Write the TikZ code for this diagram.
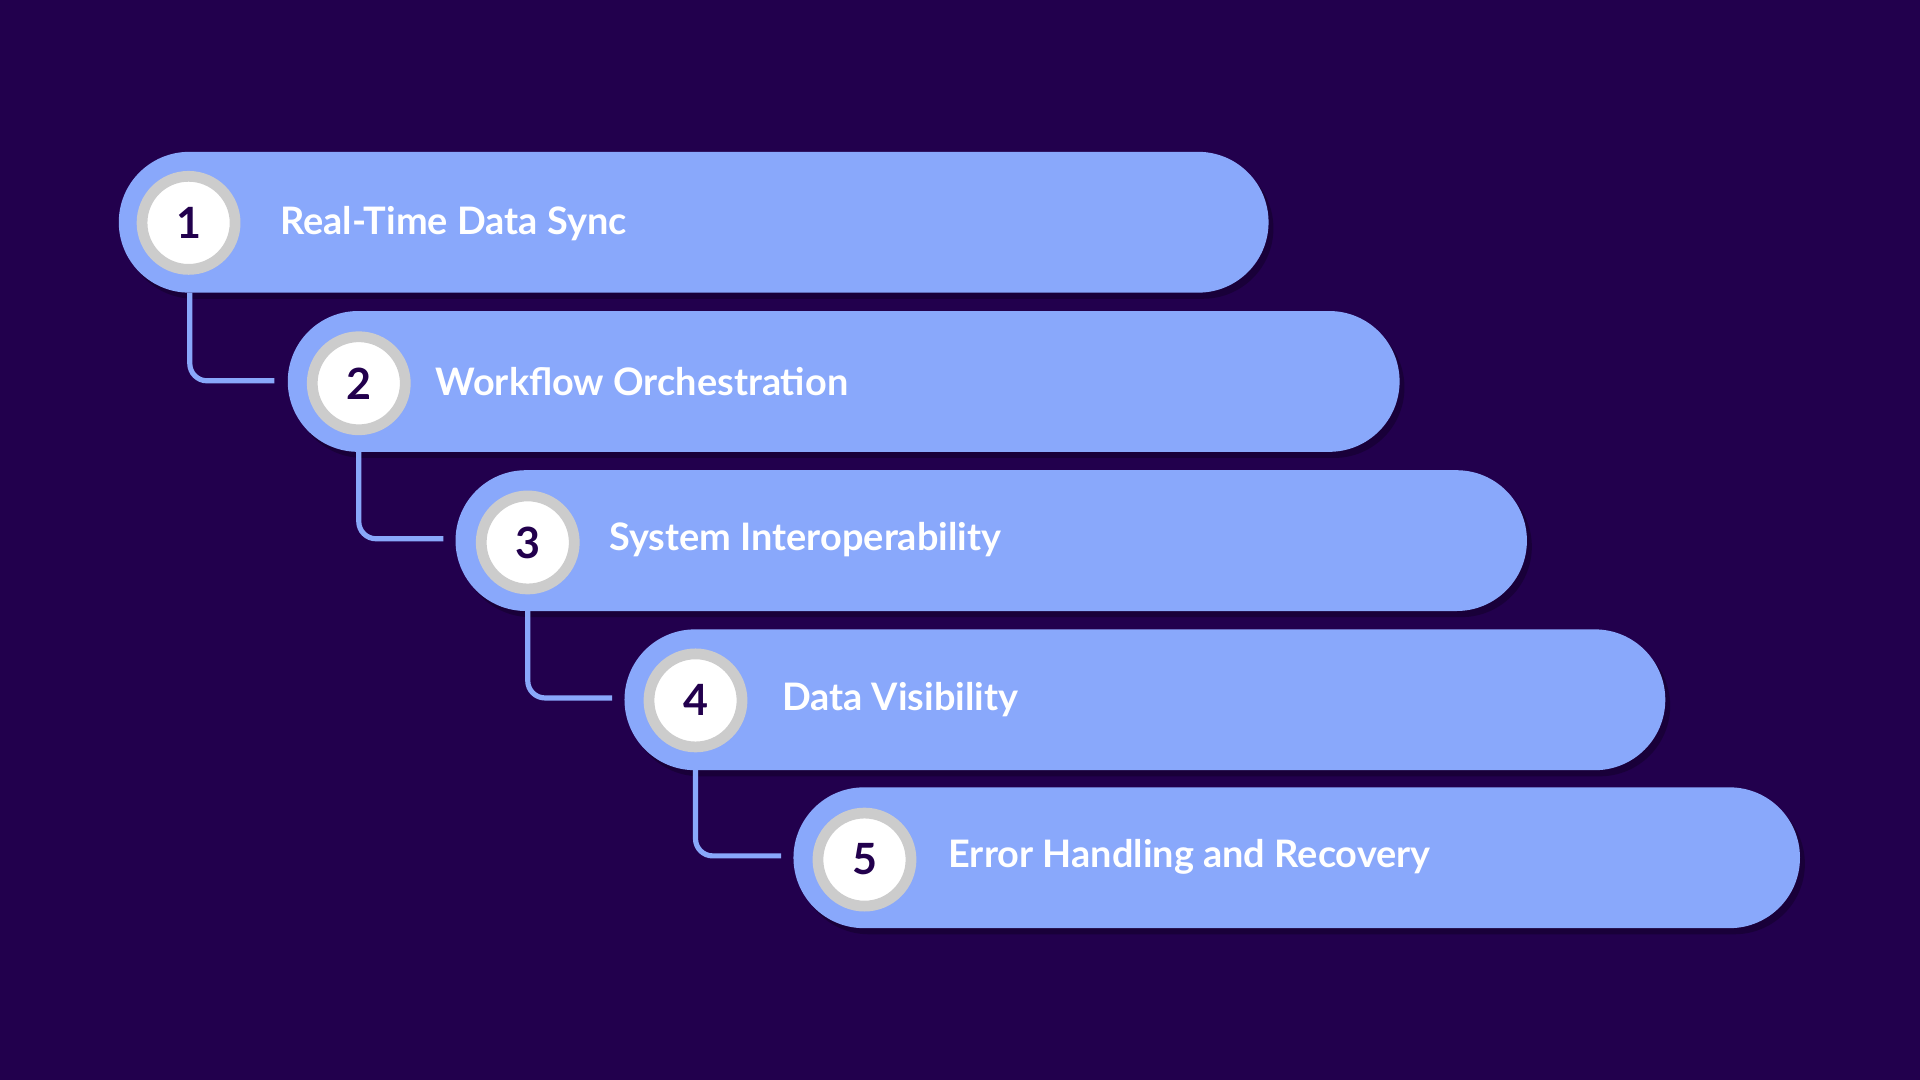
\documentclass[tikz,border=0pt]{standalone}
\usepackage{fontspec}
\setmainfont{Lato}
\begin{document}
\begin{tikzpicture}[x=0.01cm,y=-0.01cm]
\definecolor{bg}{HTML}{22004D}
\definecolor{pill}{HTML}{89A8FB}
\tikzset{
 pillst/.style={fill=pill, rounded corners=57.5*0.01cm},
 shad/.style={fill=black, opacity=0.25, rounded corners=57.5*0.01cm},
 circ/.style={circle, fill=white, draw=gray!40, line width=2.5pt, minimum size=76*0.01cm, inner sep=0pt, font=\fontsize{10pt}{10pt}\selectfont\bfseries, text=bg},
 lbl/.style={anchor=west, text=white, font=\fontsize{8.8pt}{10pt}\selectfont\bfseries, inner sep=0pt},
 conn/.style={draw=pill, line width=1.2pt, rounded corners=4}
}
\fill[bg] (0,0) rectangle (1568,882);
\useasboundingbox (0,0) rectangle (1568,882);
\foreach \x/\r/\y in {97/1036/124, 235/1143/254, 372/1247/384, 510/1360/514, 648/1470/643}{
  \fill[shad] (\x+4,\y+5) rectangle (\r+4,\y+120);
  \fill[pillst] (\x,\y) rectangle (\r,\y+115);
}
\node[lbl] (t1) at (228,183) {Real-Time Data Sync};
\node[lbl] (t2) at (355,312) {Workflow Orchestration};
\node[lbl] (t3) at (497,441) {System Interoperability};
\node[lbl] (t4) at (638,571) {Data Visibility};
\node[lbl] (t5) at (774,700) {Error Handling and Recovery};
\node[circ] (c1) at (154,182) {1};
\node[circ] (c2) at (293,313) {2};
\node[circ] (c3) at (431,443) {3};
\node[circ] (c4) at (568,572) {4};
\node[circ] (c5) at (706,702) {5};
\coordinate (a1) at (155,239); \coordinate (b1) at (224,311);
\coordinate (a2) at (293,369); \coordinate (b2) at (362,440);
\coordinate (a3) at (431,499); \coordinate (b3) at (500,570);
\coordinate (a4) at (568,629); \coordinate (b4) at (638,699);
\foreach \k in {1,2,3,4}{ \draw[conn] (a\k) |- (b\k); }
\end{tikzpicture}
\end{document}
